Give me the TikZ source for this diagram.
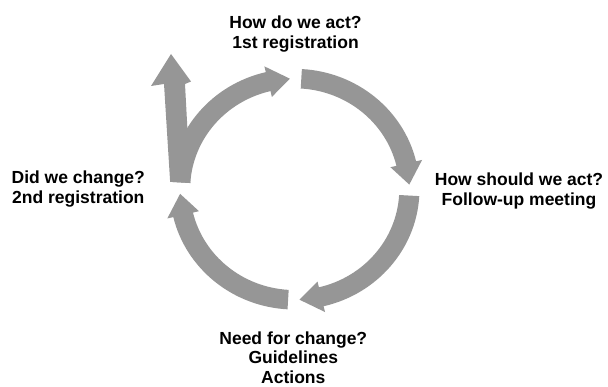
\documentclass[tikz,border=0pt]{standalone}
\usepackage{fontspec}
\setmainfont{Liberation Sans}
\definecolor{cycgray}{RGB}{150,150,150}
% curved ring arrow: #1 tail angle, #2 head-base angle, #3 tip angle (clockwise)
\newcommand\ringarrow[3]{%
  \fill[flow] (#1:120.35) arc[start angle=#1, end angle=#2, radius=120.35]
    -- (#2:126.3) -- (#3:110.6) -- (#2:94.9) -- (#2:100.85)
    arc[start angle=#2, end angle=#1, radius=100.85] -- cycle;}
\begin{document}
\begin{tikzpicture}[x=1pt,y=1pt,
  flow/.style={fill=cycgray,draw=none},
  lbl/.style={font=\fontsize{17.5}{19.5}\selectfont\bfseries,align=center,inner sep=0pt,anchor=base}]
\useasboundingbox (0,0) rectangle (608,386);

% the cycle of four curved arrows
\begin{scope}[shift={(294.7,196.8)},xscale=1.037]
  \ringarrow{176.5}{103.4}{92.4}
  \ringarrow{86.7}{13.4}{2.4}
  \ringarrow{-3.3}{-76.6}{-87.6}
  \ringarrow{-93.3}{-166.6}{-177.6}
  \coordinate (tailout) at (176.5:120.35);
  \coordinate (tailin) at (176.5:100.85);
\end{scope}

% straight exit arrow branching off the left arrow's tail
\coordinate (shl) at (164,302);
\coordinate (hdl) at (151,300);
\coordinate (tip) at (171,332);
\coordinate (hdr) at (191,304.5);
\coordinate (shr) at (185,302);
\fill[flow] (tailout) -- (shl) -- (hdl) -- (tip) -- (hdr) -- (shr) -- (tailin) -- cycle;

% stage labels (anchored at the baseline of their last line)
\node[lbl] (act) at (295.5,337.5) {How do we act?\\1st registration};
\node[lbl] (should) at (519,180.5) {How should we act?\\Follow-up meeting};
\node[lbl] (need) at (293.3,2.7) {Need for change?\\Guidelines\\Actions};
\node[lbl] (did) at (78.3,182.7) {Did we change?\\2nd registration};
\end{tikzpicture}
\end{document}
